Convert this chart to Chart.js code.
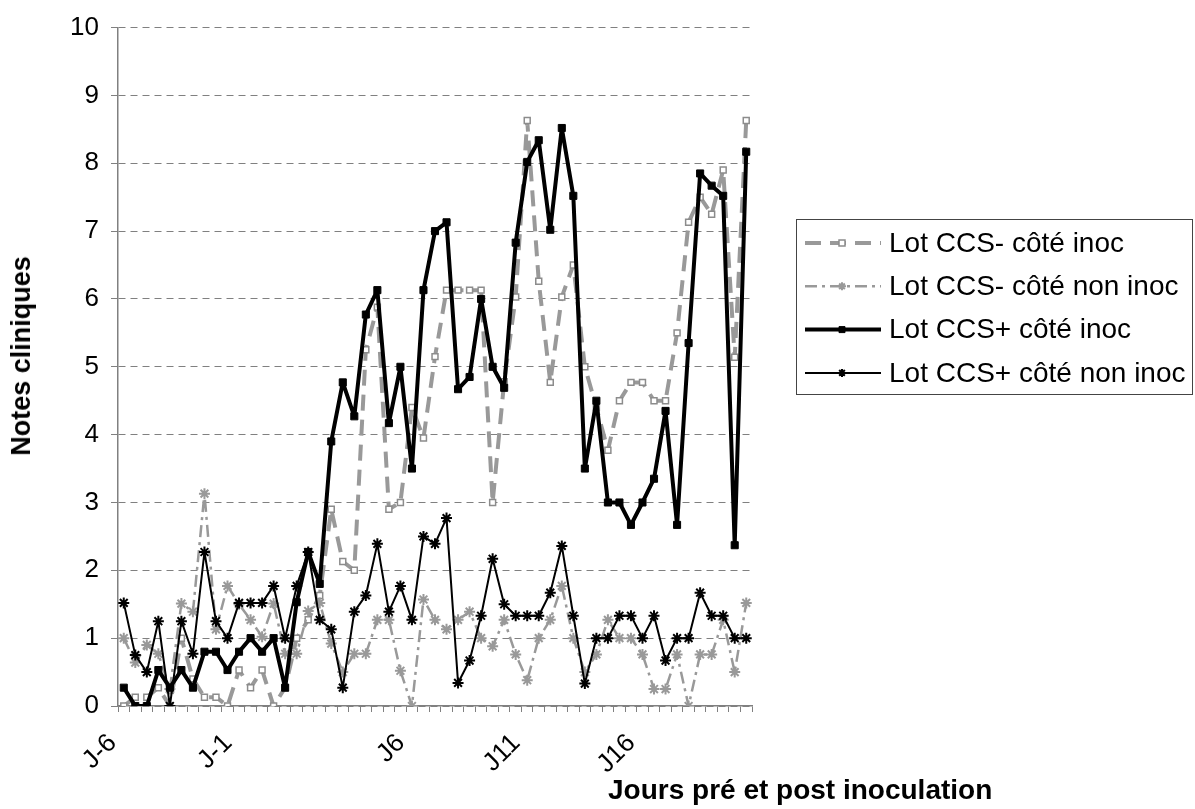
<!DOCTYPE html>
<html>
<head>
<meta charset="utf-8">
<script src="https://cdn.jsdelivr.net/npm/chart.js@4/dist/chart.umd.min.js"></script>
<style>
  html, body { margin: 0; padding: 0; background: #fff; }
  #wrap { position: relative; width: 1195px; height: 809px; }
  .axisTitle {
    position: absolute; color: #000; white-space: nowrap;
    font: bold 28px "Liberation Sans", Arial, sans-serif; line-height: 28px;
  }
  #xTitle { left: 608px; top: 776px; }
  #yTitle { left: 21px; top: 356px; font-size: 27px; transform: translate(-50%, -50%) rotate(-90deg); }
</style>
</head>
<body>
<div id="wrap">
  <canvas id="notesChart" width="1195" height="809"></canvas>
  <div id="xTitle" class="axisTitle">Jours pré et post inoculation</div>
  <div id="yTitle" class="axisTitle">Notes cliniques</div>
</div>
<script>
// half-day readings, J-6 .. J21
const categories = ['J-6', '', '', '', '', '', '', '', '', '',
  'J-1', '', '', '', '', '', '', '', '', '', '', '', '', '', '',
  'J6', '', '', '', '', '', '', '', '', '',
  'J11', '', '', '', '', '', '', '', '', '',
  'J16', '', '', '', '', '', '', '', '', ''];

const seriesNames = ['Lot CCS- côté inoc', 'Lot CCS- côté non inoc', 'Lot CCS+ côté inoc', 'Lot CCS+ côté non inoc'];

const ccsMinusInoc = [0, 0.13, 0.13, 0.27, 0, 1.0, 0.4, 0.13, 0.13, 0,
  0.53, 0.27, 0.53, 0, 0.27, 1.0, 1.27, 1.63, 2.9, 2.13,
  2.0, 5.25, 5.88, 2.9, 3.0, 4.4, 3.95, 5.15, 6.13, 6.13,
  6.13, 6.13, 3.0, 4.78, 6.03, 8.63, 6.26, 4.77, 6.03, 6.5,
  5.0, 4.4, 3.77, 4.5, 4.77, 4.77, 4.5, 4.5, 5.5, 7.13,
  7.5, 7.25, 7.9, 5.14, 8.63];

const ccsMinusNonInoc = [1.0, 0.64, 0.9, 0.77, 0.25, 1.51, 1.39, 3.13, 1.13, 1.77,
  1.5, 1.27, 1.02, 1.51, 0.77, 0.77, 1.4, 1.52, 0.92, 0.5,
  0.77, 0.77, 1.27, 1.27, 0.52, 0, 1.57, 1.27, 1.13, 1.27,
  1.39, 1.0, 0.88, 1.27, 0.76, 0.38, 1.0, 1.27, 1.77, 1.0,
  0.5, 0.76, 1.27, 1.0, 1.0, 0.76, 0.25, 0.25, 0.76, 0,
  0.76, 0.76, 1.27, 0.5, 1.52];

const ccsPlusInoc = [0.27, 0, 0, 0.53, 0.27, 0.53, 0.27, 0.8, 0.8, 0.53,
  0.8, 1.0, 0.8, 1.0, 0.27, 1.53, 2.27, 1.8, 3.9, 4.77,
  4.27, 5.77, 6.13, 4.17, 5.0, 3.5, 6.13, 7.0, 7.13, 4.67,
  4.85, 6.0, 5.0, 4.69, 6.83, 8.02, 8.34, 7.02, 8.52, 7.52,
  3.5, 4.5, 3.0, 3.0, 2.67, 3.0, 3.35, 4.35, 2.67, 5.35,
  7.85, 7.67, 7.52, 2.37, 8.17];

const ccsPlusNonInoc = [1.52, 0.75, 0.5, 1.25, 0, 1.25, 0.77, 2.27, 1.25, 1.0,
  1.52, 1.52, 1.52, 1.77, 1.0, 1.77, 2.27, 1.27, 1.13, 0.27,
  1.39, 1.63, 2.39, 1.39, 1.77, 1.27, 2.5, 2.39, 2.77, 0.34,
  0.67, 1.33, 2.17, 1.5, 1.33, 1.33, 1.33, 1.67, 2.36, 1.33,
  0.33, 1.0, 1.0, 1.33, 1.33, 1.0, 1.33, 0.67, 1.0, 1.0,
  1.67, 1.33, 1.33, 1.0, 1.0];

const yTicks = [0, 1, 2, 3, 4, 5, 6, 7, 8, 9, 10];

Chart.defaults.font.family = '"Liberation Sans", Arial, sans-serif';
Chart.defaults.color = '#000';

function drawMarker(c, ds, x, y, r) {
  c.save();
  c.setLineDash([]);
  c.lineWidth = ds.pointBorderWidth;
  c.strokeStyle = ds.pointBorderColor;
  c.fillStyle = ds.pointBackgroundColor;
  if (ds.pointStyle === 'rect') {
    c.beginPath();
    c.rect(x - r, y - r, 2 * r, 2 * r);
    c.fill();
    c.stroke();
  } else {
    c.beginPath();
    for (let a = 0; a < 4; a++) {
      const ang = a * Math.PI / 4;
      c.moveTo(x - r * Math.cos(ang), y - r * Math.sin(ang));
      c.lineTo(x + r * Math.cos(ang), y + r * Math.sin(ang));
    }
    c.stroke();
  }
  c.restore();
}

// Excel-like framed legend on the right
const legendBox = {
  id: 'legendBox',
  afterDraw(chart) {
    const c = chart.ctx;
    c.save();
    c.strokeStyle = '#444';
    c.lineWidth = 1;
    c.strokeRect(796.5, 219.5, 396, 175);
    chart.data.datasets.forEach((ds, i) => {
      const y = 243 + i * 43.3;
      c.setLineDash(ds.borderDash || []);
      c.strokeStyle = ds.borderColor;
      c.lineWidth = ds.borderWidth;
      c.beginPath();
      c.moveTo(805, y);
      c.lineTo(881, y);
      c.stroke();
      drawMarker(c, ds, 842, y, ds.pointStyle === 'rect' ? 3 : 4);
      c.setLineDash([]);
      c.fillStyle = '#000';
      c.font = '28px "Liberation Sans", Arial, sans-serif';
      c.textBaseline = 'middle';
      c.fillText(ds.label, 889, y + 1);
    });
    c.restore();
  }
};

const ctx = document.getElementById('notesChart').getContext('2d');
const notesChart = new Chart(ctx, {
  type: 'line',
  data: {
    labels: categories,
    datasets: [
      {
        label: seriesNames[0],
        data: ccsMinusInoc,
        borderColor: '#999999',
        borderWidth: 4,
        borderDash: [16, 9],
        borderJoinStyle: 'round',
        pointStyle: 'rect',
        pointRadius: 4.2,
        pointBackgroundColor: '#ffffff',
        pointBorderColor: '#8c8c8c',
        pointBorderWidth: 1.5,
        order: 3
      },
      {
        label: seriesNames[1],
        data: ccsMinusNonInoc,
        borderColor: '#999999',
        borderWidth: 2.5,
        borderDash: [12, 5, 3, 5],
        borderJoinStyle: 'round',
        pointStyle: 'star',
        pointRadius: 5.5,
        pointBackgroundColor: '#999999',
        pointBorderColor: '#999999',
        pointBorderWidth: 2,
        order: 2
      },
      {
        label: seriesNames[2],
        data: ccsPlusInoc,
        borderColor: '#000000',
        borderWidth: 4,
        borderJoinStyle: 'round',
        pointStyle: 'rect',
        pointRadius: 5,
        pointBackgroundColor: '#000000',
        pointBorderColor: '#000000',
        pointBorderWidth: 1,
        order: 1
      },
      {
        label: seriesNames[3],
        data: ccsPlusNonInoc,
        borderColor: '#000000',
        borderWidth: 2,
        borderJoinStyle: 'round',
        pointStyle: 'star',
        pointRadius: 5.5,
        pointBackgroundColor: '#000000',
        pointBorderColor: '#000000',
        pointBorderWidth: 2,
        order: 0
      }
    ]
  },
  options: {
    responsive: false,
    animation: false,
    devicePixelRatio: 1,
    layout: { padding: { top: 22, right: 443, bottom: 0, left: 0 } },
    elements: { line: { tension: 0 } },
    scales: {
      x: {
        offset: true,
        grid: { offset: true, drawOnChartArea: false, tickLength: 6, color: '#808080' },
        border: { color: '#808080', width: 1.5 },
        ticks: {
          autoSkip: false,
          minRotation: 45,
          maxRotation: 45,
          padding: 16,
          labelOffset: -11,
          font: { size: 26 }
        },
        afterFit(scale) { scale.height = 103; }
      },
      y: {
        min: 0,
        max: 10,
        afterBuildTicks(scale) { scale.ticks = yTicks.map(v => ({ value: v })); },
        grid: { color: '#808080', tickLength: 7, tickBorderDash: [] },
        border: { color: '#808080', width: 1.5, dash: [7, 5] },
        ticks: { padding: 12, font: { size: 26 } },
        afterFit(scale) { scale.width = 118; }
      }
    },
    plugins: {
      legend: { display: false },
      tooltip: { enabled: false }
    }
  },
  plugins: [legendBox]
});
</script>
</body>
</html>
